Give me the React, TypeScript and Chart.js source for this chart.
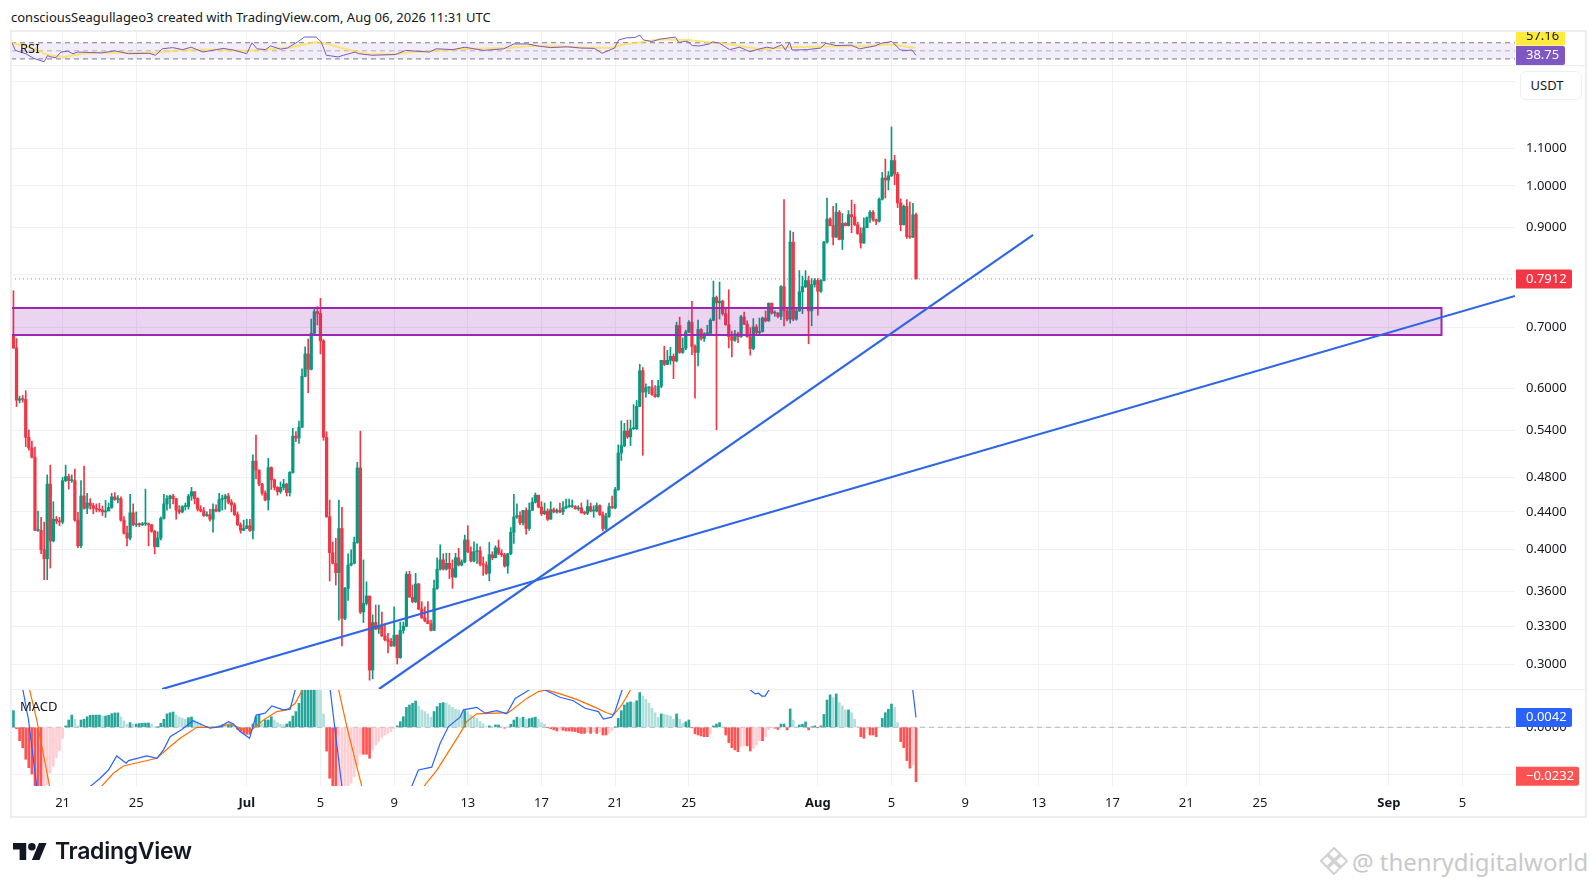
import React, { useEffect, useRef } from 'react';
import { Chart, registerables } from 'chart.js';

Chart.register(...registerables);

// 4h candles, first one sits 76 candles before Jul 1 00:00
const CANDLES_BEFORE_JUL1 = 76;

const closes = [
  .665, .583, .585, .584, .531, .517, .505, .420, .420, .400,
  .391, .472, .409, .432, .430, .429, .476, .481, .476, .476,
  .431, .404, .458, .444, .450, .447, .444, .443, .442, .440,
  .441, .445, .457, .454, .455, .431, .417, .412, .439, .426,
  .427, .426, .427, .427, .426, .419, .403, .412, .433, .449,
  .455, .458, .455, .442, .440, .446, .446, .458, .463, .455,
  .443, .441, .436, .437, .432, .443, .441, .454, .455, .458,
  .451, .448, .437, .426, .420, .422, .425, .420, .500, .489,
  .472, .4615, .4534, .492, .477, .468, .463, .468, .472, .462,
  .486, .5325, .53, .5445, .619, .655, .63, .69, .7287, .7256,
  .677, .531, .4347, .397, .3866, .3776, .422, .3365, .363, .385,
  .3866, .4075, .4915, .342, .3495, .356, .2955, .333, .3276, .3305,
  .322, .319, .3176, .314, .3227, .3048, .3265, .33, .376, .355,
  .351, .367, .3445, .337, .3345, .332, .3265, .363, .381, .39,
  .381, .3866, .3815, .3735, .392, .385, .388, .41, .398, .389,
  .398, .399, .386, .385, .377, .395, .392, .402, .3965, .395,
  .384, .396, .418, .4345, .436, .428, .4417, .422, .4417, .451,
  .459, .4455, .438, .441, .432, .4425, .44, .4417, .44, .4445,
  .446, .446, .446, .4435, .4445, .439, .4385, .446, .441, .441,
  .447, .437, .422, .435, .446, .4445, .4655, .5105, .52, .5395,
  .5315, .5425, .5425, .574, .628, .595, .6015, .6015, .5915, .5885,
  .604, .6445, .638, .6445, .651, .6435, .7035, .6575, .6645, .6925,
  .7095, .6675, .6575, .6965, .681, .689, .69, .713, .755, .745,
  .748, .725, .705, .684, .678, .689, .684, .719, .706, .684,
  .664, .701, .691, .693, .717, .712, .744, .726, .726, .72,
  .776, .73, .715, .868, .715, .73, .766, .776, .788, .73,
  .78, .788, .767, .788, .868, .92, .905, .879, .936, .874,
  .91, .905, .93, .925, .907, .887, .866, .90, .923, .936,
  .918, .915, .967, 1.02, 1.015, 1.026, 1.066, 1.03, .958, .907,
  .95, .88, .879, .93, .7912,
];

const highs = [
  .768, .681, .589, .590, .597, .541, .526, .518, .441, .434,
  .429, .483, .495, .4515, .435, .434, .48, .495, .484, .483,
  .49, .4395, .476, .494, .461, .455, .4497, .449, .4497, .4465,
  .453, .45, .461, .462, .4585, .457, .435, .4245, .46, .449,
  .44, .428, .4285, .466, .428, .4265, .42, .4185, .4345, .46,
  .4585, .459, .46, .455, .447, .447, .45, .46, .468, .463,
  .456, .447, .445, .44, .443, .449, .448, .461, .459, .46,
  .461, .454, .45, .44, .428, .431, .432, .432, .508, .534,
  .489, .473, .464, .5036, .493, .478, .469, .4745, .4776, .473,
  .487, .543, .5386, .553, .631, .667, .68, .7153, .735, .738,
  .7536, .679, .5386, .4534, .408, .4117, .4534, .445, .364, .396,
  .40, .413, .4986, .5393, .39, .369, .356, .3395, .348, .348,
  .342, .332, .324, .32, .3465, .3227, .3335, .3335, .3785, .379,
  .366, .377, .3675, .351, .3465, .351, .335, .3705, .392, .405,
  .396, .3965, .3965, .39, .3965, .4014, .39, .415, .425, .403,
  .408, .406, .403, .393, .388, .4075, .398, .404, .41, .40,
  .3965, .3965, .423, .46, .449, .44, .4417, .4445, .45, .456,
  .4615, .459, .4515, .45, .4435, .4515, .4445, .4435, .45, .4515,
  .4545, .4545, .4535, .447, .447, .45, .441, .4535, .45, .447,
  .45, .448, .44, .4385, .45, .458, .468, .521, .5535, .55,
  .5545, .5545, .5765, .5825, .638, .633, .6075, .6025, .613, .605,
  .613, .6445, .668, .661, .666, .655, .7095, .7185, .682, .6955,
  .7125, .748, .67, .7135, .698, .691, .704, .716, .787, .758,
  .785, .75, .737, .77, .694, .695, .692, .722, .728, .712,
  .70, .716, .705, .717, .719, .73, .745, .745, .73, .727,
  .778, .966, .733, .893, .89, .733, .808, .797, .808, .797,
  .792, .792, .792, .79, .87, .97, .923, .95, .957, .94,
  .933, .912, .94, .965, .955, .913, .90, .923, .925, .94,
  .94, .92, .97, 1.035, 1.07, 1.037, 1.16, 1.08, 1.035, .968,
  .953, .966, .96, .957, .934,
];

const lows = [
  .664, .5736, .579, .58, .5186, .514, .504, .42, .419, .396,
  .371, .371, .382, .408, .427, .425, .427, .475, .466, .474,
  .43, .402, .402, .443, .438, .443, .438, .44, .44, .436,
  .434, .442, .444, .453, .45, .43, .416, .404, .41, .425,
  .424, .424, .425, .425, .404, .418, .396, .403, .41, .432,
  .442, .444, .449, .432, .438, .439, .442, .443, .453, .449,
  .441, .44, .435, .435, .43, .418, .44, .44, .442, .443,
  .449, .44, .436, .425, .417, .42, .422, .419, .411, .478,
  .47, .459, .4525, .442, .4655, .465, .459, .461, .465, .458,
  .458, .485, .525, .523, .5445, .618, .594, .629, .689, .7046,
  .655, .527, .434, .3697, .386, .366, .335, .314, .3355, .352,
  .384, .386, .4065, .3405, .333, .348, .288, .289, .327, .324,
  .3215, .318, .3085, .3135, .3135, .30, .3043, .324, .3295, .355,
  .35, .35, .344, .3365, .3335, .332, .326, .3265, .362, .38,
  .38, .38, .372, .363, .373, .384, .384, .387, .397, .388,
  .388, .3866, .384, .375, .376, .37, .39, .392, .395, .393,
  .383, .377, .395, .4065, .433, .426, .4255, .416, .42, .4417,
  .45, .4445, .436, .437, .4305, .432, .439, .4385, .439, .437,
  .4435, .445, .445, .443, .4417, .4385, .437, .437, .44, .434,
  .44, .436, .4195, .4205, .434, .444, .4435, .4645, .501, .5185,
  .5295, .52, .5415, .5415, .5735, .5075, .5875, .5925, .59, .587,
  .5875, .6015, .636, .6375, .638, .6155, .642, .656, .656, .662,
  .691, .654, .586, .6355, .678, .676, .687, .688, .712, .541,
  .715, .722, .704, .665, .65, .676, .674, .683, .705, .683,
  .653, .662, .689, .689, .692, .71, .711, .724, .72, .717,
  .714, .703, .712, .708, .712, .713, .729, .725, .774, .672,
  .703, .775, .722, .765, .787, .866, .904, .862, .878, .873,
  .852, .904, .904, .889, .905, .885, .855, .865, .90, .912,
  .915, .907, .913, .965, .97, .99, 1.024, 1.003, .947, .893,
  .906, .876, .876, .878, .7912,
];

const firstOpen = 0.687;

const macdHist = [
  .0071, -.0006, -.0057, -.0087, -.0136, -.0172, -.0199, -.029, -.032, -.034,
  -.0255, -.0245, -.0196, -.0167, -.0129, -.0099, -.0047, .0006, .0031, .0052,
  .0034, .0006, .0031, .0034, .0045, .0051, .0052, .0052, .0052, .0048,
  .0048, .0051, .0058, .0061, .0061, .0045, .0027, .0013, .002, .0014,
  .0014, .0016, .0017, .0018, .0018, .0013, .0001, .0001, .0017, .0034,
  .0057, .0062, .0065, .0052, .0044, .0038, .0035, .0041, .0044, .0031,
  .0024, .0017, .0003, .0003, -.0001, .0001, .0001, .0006, .001, .0007,
  .0009, .0009, .0006, -.0009, -.0018, -.0026, -.003, -.003, .0014, .0045,
  .0052, .0017, .0031, .0031, .0045, .0031, .002, .0014, .001, .0014,
  .0024, .0048, .0067, .0102, .017, .019, .02, .021, .021, .019,
  .017, .0057, -.0101, -.0217, -.027, -.03, -.029, -.028, -.027, -.026,
  -.0238, -.021, -.016, -.0115, -.0115, -.0115, -.0132, -.0096, -.0075, -.0061,
  -.0044, -.0033, -.0026, -.0018, -.0006, .0006, .0024, .0045, .0085, .0095,
  .0102, .0112, .0091, .0074, .0067, .0057, .0043, .0067, .0088, .0102,
  .0105, .0102, .0095, .0085, .0077, .0074, .006, .0071, .0067, .0052,
  .0043, .0038, .0024, .0014, .0003, .0006, .0003, .001, .001, .0003,
  -.0004, -.0001, .0013, .0031, .0043, .0038, .0043, .0034, .0037, .004,
  .0043, .0034, .002, .0013, -.0001, -.0006, -.0011, -.0016, -.0009, -.0013,
  -.0016, -.0016, -.0017, -.0018, -.0023, -.0026, -.0026, -.002, -.0026, -.002,
  -.0026, -.002, -.0033, -.0033, -.0026, -.0014, .0001, .0038, .0071, .0095,
  .0105, .0108, .0105, .0113, .0148, .0133, .0119, .0102, .0081, .0062,
  .0043, .0057, .0055, .0052, .0048, .0034, .0057, .0034, .0017, .0023,
  .0031, -.0001, -.0028, -.0033, -.0037, -.004, -.004, -.0028, .0006, .0014,
  .002, .0001, -.0033, -.0065, -.0087, -.0096, -.0104, -.0082, -.0079, -.0079,
  -.0101, -.0089, -.0075, -.0057, -.0057, -.004, -.0011, -.0003, -.0004, -.0009,
  .0014, .0014, -.0011, .0078, .0031, .0001, .001, .0013, .0023, -.0011,
  .0001, .0006, -.0001, .0006, .0055, .0116, .0138, .0126, .0142, .0105,
  .0091, .0074, .0074, .0062, .0034, .0001, -.004, -.0047, -.0009, -.0033,
  -.0033, -.004, -.0001, .0038, .0062, .0077, .0099, .0084, .002, -.0061,
  -.0087, -.0142, -.0174, -.016, -.0232,
];

// line indicators: vertices, x in days since Jul 1
const rsiDays = [
  -12.75, -12.56, -12.29, -12, -11.55, -11, -10.82, -10.64, -10.36, -10.09, -9.72, -9.44, -9.17, -8.62, -7.88, -7.15,
  -6.42, -5.32, -4.95, -4.58, -4.03, -3.48, -3.02, -2.38, -1.65, -1.28, -0.73, 0, 0.28, 0.56, 1.02, 1.29, 1.84, 2.21,
  2.76, 3.13, 3.77, 4.04, 4.32, 4.96, 5.24, 5.88, 6.06, 6.8, 8.08, 8.63, 9.92, 10.28, 11.2, 11.84, 12.85, 13.95, 14.5,
  15.24, 15.93, 16.48, 17.4, 18.13, 18.87, 19.29, 19.97, 20.19, 20.61, 21.07, 21.34, 21.53, 21.99, 22.45, 23.27, 23.45,
  23.91, 24.19, 24.56, 25.11, 25.29, 25.66, 26.21, 26.76, 27.31, 27.86, 28.23, 28.59, 29.05, 29.24, 29.47, 29.6, 30.43,
  31.16, 31.44, 31.99, 32.81, 33.27, 34.1, 34.47, 35.02, 35.48, 35.84, 36.12, 36.33,
];
const rsiValues = [
  70, 51, 47, 43, 31, 23, 38, 35, 33, 47, 49, 43, 47, 46, 45, 50,
  43, 44, 39, 55, 58, 53, 59, 47, 53, 56, 52, 43, 70, 55, 53, 62, 54, 57,
  72, 84, 84, 72, 39, 35, 39, 47, 43, 39, 41, 51, 47, 55, 53, 59, 51, 55, 67,
  67, 61, 58, 60, 57, 56, 44, 57, 77, 82, 83, 89, 77, 73, 79, 84, 71,
  74, 63, 62, 67, 72, 69, 53, 59, 48, 55, 59, 56, 65, 52, 71, 52, 53,
  57, 69, 63, 64, 55, 62, 69, 73, 52, 51, 52, 38.75,
];
const rsiMaDays = [
  -12.75, -11.55, -10.82, -9.9, -9, -7.88, -4.95, -3.85, -2, -0.55, 0, 1.29, 2.4, 3.7, 4.2, 5, 5.7, 6.45, 7.9, 9, 10.5,
  12.3, 14.15, 15.38, 16.48, 18.13, 19.78, 20.5, 21.44, 22.35, 24, 24.92, 25.84, 26.76, 27.86, 29.5, 31.35, 33.73, 34.83, 36.3,
];
const rsiMaValues = [
  70, 55, 40, 35, 43, 45, 45, 51, 53, 51, 50, 54, 58, 72, 69, 59, 50, 43, 41, 47, 51,
  55, 57, 62, 62, 58, 57, 66, 72, 78, 77, 72, 69, 62, 54, 59, 61, 62, 66, 57.16,
];

const macdDays = [
  -12.7, -12.16, -11.85, -11.4, -9.5, -8.47, -7.96, -7.51, -7.06, -6.55, -6.42, -5.43, -4.88, -4.52, -4.16, -3.53, -2.93,
  -2.53, -1.99, -1.45, -0.99, -0.72, -0.36, 0.15, 0.51, 1, 1.36, 1.99, 2.35, 2.63, 3.8, 4.53, 5.16, 6.5, 8.96, 9.32,
  10.04, 10.5, 10.95, 11.58, 11.76, 12.48, 12.94, 13.57, 14.11, 14.57, 15.11, 15.38, 15.8, 16.19, 17.01, 17.73, 18.37,
  19.09, 19.36, 19.81, 19.99, 20.39, 22.5, 26, 27.29, 27.6, 27.78, 27.96, 28.14, 28.37, 30, 35.5, 36.15, 36.33,
];
const macdValues = [
  .03, .0162, .0031, -.0252, -.06, -.025, -.0217, -.0182, -.0122, -.0153, -.0142, -.0122, -.0132, -.0096, -.004, -.0009, .0028,
  .0014, -.0004, .0003, .0024, .0014, -.0018, -.0047, .0052, .006, .0091, .0074, .0077, .0159, .05, .0159, -.025, -.07, -.025, -.0182,
  -.017, -.0068, .0003, .0043, .0074, .0085, .006, .0071, .0057, .0123, .0148, .0162, .017, .0159, .0128, .0113, .0081,
  .0067, .0035, .0043, .0067, .0162, .06, .03, .0162, .0142, .0145, .0133, .0133, .0162, .04, .03, .0162, .0042,
];
const signalDays = [
  -12.7, -11.8, -11.4, -10.71, -9.5, -7.87, -7.24, -6.7, -4.88, -4.16, -3.62, -2.71, -1.63, -0.9, -0.36, 0.15, 0.91, 1.63,
  2.17, 2.63, 3.04, 4.5, 4.98, 5.43, 6.24, 7.5, 9.63, 10.32, 11.58, 11.94, 12.48, 14.2, 15.2, 15.83, 16.25, 17.01, 17.91,
  18.82, 19.54, 19.9, 20.36, 20.85, 22.5, 36.33,
];
const signalValues = [
  .035, .0162, .0031, -.025, -.05, -.025, -.0196, -.0165, -.0132, -.0082, -.0047, 0, 0, .0014, -.0004, -.0018, .0031, .0067,
  .0074, .0102, .0162, .045, .0162, .0003, -.025, -.06, -.025, -.0182, -.0026, .0024, .0057, .0062, .0123, .0152, .0159, .0142, .0119,
  .0088, .0062, .0052, .0095, .0162, .05, .03,
];

const priceTicks = [1.3, 1.1, 1.0, 0.9, 0.8, 0.7, 0.6, 0.54, 0.48, 0.44, 0.4, 0.36, 0.33, 0.3];
const hiddenPriceLabels = [0.8]; // grid line stays, the last price label sits on it
const macdTicks = [0, -0.02];
const timeTickDays = [-10, -6, 0, 4, 8, 12, 16, 20, 24, 31, 35, 39, 43, 47, 51, 55, 62, 66];
const timeTickLabels = ['21', '25', 'Jul', '5', '9', '13', '17', '21', '25', 'Aug', '5', '9', '13', '17', '21', '25', 'Sep', '5'];

const lastPrice = 0.7912;
const zoneDays = [-12.8, 64.86];
const zoneTop = 0.7354;
const zoneBottom = 0.687;
const trendADays = [-4.6, 68.85];
const trendAPrices = [0.2817, 0.758];
const trendBDays = [7.18, 42.69];
const trendBPrices = [0.2817, 0.884];

const X_MIN = -12.8;
const X_MAX = 68.85;
const FONT = '"Noto Sans", sans-serif';
const RED = '#f23645';
const GREEN = '#089981';
const GRID = '#f0f1f4';

const candleDay = (i: number) => (i - CANDLES_BEFORE_JUL1) / 6;
const opens = [firstOpen, ...closes.slice(0, -1)];
const pairs = (xs: number[], ys: number[]) => xs.map((x, i) => ({ x, y: ys[i] }));

type Badge = { value: number; text: string; bg: string; fg: string; width: number; shift?: number };

// value labels on the right axis
const badgePlugin = (badges: Badge[]) => ({
  id: 'axisBadges',
  afterDraw(chart: any) {
    const ctx = chart.ctx;
    const left = chart.chartArea.right + 1;
    ctx.save();
    ctx.font = `13px ${FONT}`;
    ctx.textBaseline = 'middle';
    badges.forEach((b) => {
      const y = chart.scales.y.getPixelForValue(b.value) + (b.shift || 0);
      ctx.fillStyle = b.bg;
      ctx.beginPath();
      ctx.roundRect(left, y - 9.5, b.width, 19, [0, 2, 2, 0]);
      ctx.fill();
      ctx.fillStyle = b.fg;
      ctx.textAlign = 'left';
      ctx.fillText(b.text, left + 10, y);
    });
    ctx.restore();
  },
});

const xAxis = (labels: boolean) => ({
  type: 'linear',
  min: X_MIN,
  max: X_MAX,
  offset: false,
  afterBuildTicks: (scale: any) => {
    scale.ticks = timeTickDays.map((value) => ({ value }));
  },
  afterFit: (scale: any) => {
    scale.height = labels ? 31 : 0;
    scale.paddingLeft = 0;
    scale.paddingRight = 0;
  },
  grid: { color: GRID, drawTicks: false, offset: false },
  border: { display: false },
  ticks: {
    display: labels,
    autoSkip: false,
    maxRotation: 0,
    padding: 9,
    color: '#131722',
    font: (ctx: any) => ({
      family: FONT,
      size: 13,
      weight: [0, 31, 62].includes(ctx.tick?.value) ? 'bold' : 'normal',
    }),
    callback: (value: number) => timeTickLabels[timeTickDays.indexOf(value)],
  },
});

const yAxisBase = {
  position: 'right',
  afterFit: (scale: any) => {
    // no inset for the top and bottom tick labels, the pane has to fill its canvas
    scale.width = 70;
    scale.paddingTop = 0;
    scale.paddingBottom = 0;
  },
  grid: { color: GRID, drawTicks: false },
  border: { display: false },
};

const baseOptions = {
  responsive: false,
  animation: false,
  devicePixelRatio: 1,
  events: [],
  layout: { autoPadding: false, padding: { left: 11, right: 11, top: 0, bottom: 0 } },
  plugins: { legend: { display: false }, tooltip: { enabled: false } },
};

const lineSet = (data: any, color: string, width: number, order: number, extra = {}) => ({
  type: 'line',
  data,
  borderColor: color,
  borderWidth: width,
  pointRadius: 0,
  tension: 0,
  fill: false,
  order,
  ...extra,
});

const histColor = (v: number, i: number) => {
  const prev = i > 0 ? macdHist[i - 1] : 0;
  if (v >= 0) return v >= prev ? '#26a69a' : '#b2dfdb';
  return v <= prev ? '#ff5252' : '#ffcdd2';
};

const App: React.FC = () => {
  const rsiRef = useRef<HTMLCanvasElement>(null);
  const priceRef = useRef<HTMLCanvasElement>(null);
  const macdRef = useRef<HTMLCanvasElement>(null);

  useEffect(() => {
    const candleColors = closes.map((c, i) => (c >= opens[i] ? GREEN : RED));
    const across = (v: number) => pairs([X_MIN, X_MAX], [v, v]);

    const rsiChart = new Chart(rsiRef.current as any, {
      type: 'line',
      data: {
        datasets: [
          lineSet(pairs(rsiDays, rsiValues), '#7e57c2', 1, 1),
          lineSet(pairs(rsiMaDays, rsiMaValues), 'rgba(253,224,71,0.75)', 2, 2),
          lineSet(across(70), '#787b86', 1, 3, { borderDash: [5, 4], fill: '+1', backgroundColor: 'rgba(126,87,194,0.1)' }),
          lineSet(across(30), '#787b86', 1, 3, { borderDash: [5, 4] }),
          lineSet(across(50), '#b2b5be', 1, 3, { borderDash: [5, 4] }),
        ],
      } as any,
      options: {
        ...baseOptions,
        scales: {
          x: xAxis(false),
          y: { ...yAxisBase, min: 15, max: 99, grid: { display: false }, ticks: { display: false } },
        },
      } as any,
      plugins: [
        badgePlugin([
          { value: 57.16, text: '57.16', bg: '#ffeb3b', fg: '#131722', width: 49, shift: -12 },
          { value: 38.75, text: '38.75', bg: '#7e57c2', fg: '#ffffff', width: 49 },
        ]),
      ],
    });

    const priceChart = new Chart(priceRef.current as any, {
      type: 'bar',
      data: {
        datasets: [
          lineSet(pairs(trendADays, trendAPrices), '#2f66e8', 2.2, 1),
          lineSet(pairs(trendBDays, trendBPrices), '#2f66e8', 2.2, 1),
          lineSet(across(lastPrice), 'rgba(242,54,69,0.8)', 1, 2, { borderDash: [1, 3] }),
          lineSet(
            pairs([zoneDays[0], zoneDays[1], zoneDays[1], zoneDays[0], zoneDays[0]], [zoneTop, zoneTop, zoneBottom, zoneBottom, zoneTop]),
            '#9c27b0',
            2,
            3
          ),
          lineSet(pairs(zoneDays, [zoneTop, zoneTop]), 'transparent', 0, 4, {
            fill: '+1',
            backgroundColor: 'rgba(156,39,176,0.2)',
          }),
          lineSet(pairs(zoneDays, [zoneBottom, zoneBottom]), 'transparent', 0, 4),
          {
            type: 'bar',
            data: closes.map((c, i) => ({ x: candleDay(i), y: [opens[i], c] })),
            backgroundColor: candleColors,
            barThickness: 2.6,
            minBarLength: 1,
            grouped: false,
            borderWidth: 0,
            order: 5,
          },
          {
            type: 'bar',
            data: closes.map((_, i) => ({ x: candleDay(i), y: [lows[i], highs[i]] })),
            backgroundColor: candleColors,
            barThickness: 1,
            grouped: false,
            borderWidth: 0,
            order: 6,
          },
        ],
      } as any,
      options: {
        ...baseOptions,
        scales: {
          x: xAxis(false),
          y: {
            ...yAxisBase,
            type: 'logarithmic',
            min: 0.2817,
            max: 1.356,
            afterBuildTicks: (scale: any) => {
              scale.ticks = priceTicks.map((value) => ({ value }));
            },
            ticks: {
              autoSkip: false,
              padding: 11,
              color: '#131722',
              font: { family: FONT, size: 13 },
              callback: (value: number) => (hiddenPriceLabels.includes(value) ? '' : Number(value).toFixed(4)),
            },
          },
        },
      } as any,
      plugins: [badgePlugin([{ value: lastPrice, text: '0.7912', bg: '#f23645', fg: '#ffffff', width: 56 }])],
    });

    const macdChart = new Chart(macdRef.current as any, {
      type: 'bar',
      data: {
        datasets: [
          lineSet(pairs(macdDays, macdValues), '#2962ff', 1.2, 1),
          lineSet(pairs(signalDays, signalValues), '#ff6d00', 1.2, 2),
          lineSet(across(0), '#b2b5be', 1, 4, { borderDash: [5, 4] }),
          {
            type: 'bar',
            data: macdHist.map((v, i) => ({ x: candleDay(i), y: v })),
            backgroundColor: macdHist.map(histColor),
            barThickness: 2,
            grouped: false,
            borderWidth: 0,
            order: 3,
          },
        ],
      } as any,
      options: {
        ...baseOptions,
        scales: {
          x: xAxis(true),
          y: {
            ...yAxisBase,
            min: -0.025,
            max: 0.0163,
            afterBuildTicks: (scale: any) => {
              scale.ticks = macdTicks.map((value) => ({ value }));
            },
            ticks: {
              autoSkip: false,
              padding: 11,
              color: '#131722',
              font: { family: FONT, size: 13 },
              callback: (value: number) => (value < 0 ? '\u2212' : '') + Math.abs(value).toFixed(4),
            },
          },
        },
      } as any,
      plugins: [
        badgePlugin([
          { value: 0.0042, text: '0.0042', bg: '#2962ff', fg: '#ffffff', width: 56 },
          { value: -0.0232, text: '\u22120.0232', bg: '#ff5252', fg: '#ffffff', width: 63, shift: -5.5 },
        ]),
      ],
    });

    return () => {
      rsiChart.destroy();
      priceChart.destroy();
      macdChart.destroy();
    };
  }, []);

  const text: React.CSSProperties = { position: 'absolute', fontFamily: FONT, color: '#131722', whiteSpace: 'nowrap' };
  const line: React.CSSProperties = { position: 'absolute', background: '#eceef2' };

  return (
    <div style={{ position: 'absolute', left: 0, top: 0, width: 1596, height: 886, background: '#fff', overflow: 'hidden' }}>
      <div style={{ ...text, left: 11, top: 8, fontSize: 13 }}>
        consciousSeagullageo3 created with TradingView.com, Aug 06, 2026 11:31 UTC
      </div>

      <canvas ref={rsiRef} width={1596} height={34} style={{ position: 'absolute', left: 0, top: 31 }} />
      <canvas ref={priceRef} width={1596} height={624} style={{ position: 'absolute', left: 0, top: 65 }} />
      <canvas ref={macdRef} width={1596} height={128} style={{ position: 'absolute', left: 0, top: 689 }} />

      {/* frame and pane dividers */}
      <div style={{ ...line, left: 11, top: 30, width: 1575, height: 2 }} />
      <div style={{ ...line, left: 11, top: 816, width: 1575, height: 2 }} />
      <div style={{ ...line, left: 10, top: 30, width: 2, height: 788 }} />
      <div style={{ ...line, left: 1585, top: 30, width: 2, height: 788 }} />
      <div style={{ ...line, left: 11, top: 65, width: 1575, height: 1 }} />
      <div style={{ ...line, left: 11, top: 689, width: 1575, height: 1 }} />

      <div style={{ ...text, left: 20, top: 39, fontSize: 13 }}>RSI</div>
      <div style={{ ...text, left: 20, top: 697, fontSize: 13 }}>MACD</div>

      <div
        style={{
          ...text,
          left: 1520,
          top: 71,
          width: 52,
          height: 27,
          lineHeight: '27px',
          textAlign: 'center',
          paddingRight: 8,
          fontSize: 13,
          background: '#fff',
          border: '1px solid #eceef2',
          borderRadius: 6,
        }}
      >
        USDT
      </div>

      <svg viewBox="0 4 36 18" width={34} height={17} style={{ position: 'absolute', left: 13, top: 843 }}>
        <path d="M14 22H7V11H0V4h14v18zM28 22h-8l7.5-18h8L28 22z" fill="#131722" />
        <circle cx={20} cy={8} r={4} fill="#131722" />
      </svg>
      <div style={{ ...text, left: 55, top: 837, fontSize: 23, fontWeight: 600, fontFamily: 'Inter, sans-serif', letterSpacing: -0.3 }}>
        TradingView
      </div>

      <svg viewBox="0 0 28 28" width={28} height={28} style={{ position: 'absolute', left: 1320, top: 847 }}>
        <g fill="none" stroke="#d2d2d2" strokeWidth={2}>
          <path d="M14 1l6 6-6 6-6-6zM7 8l6 6-6 6-6-6zM21 8l6 6-6 6-6-6zM14 15l6 6-6 6-6-6z" />
        </g>
      </svg>
      <div style={{ ...text, left: 1352, top: 845, fontSize: 24, color: '#c9c9c9' }}>@ thenrydigitalworld</div>
    </div>
  );
};

export default App;
